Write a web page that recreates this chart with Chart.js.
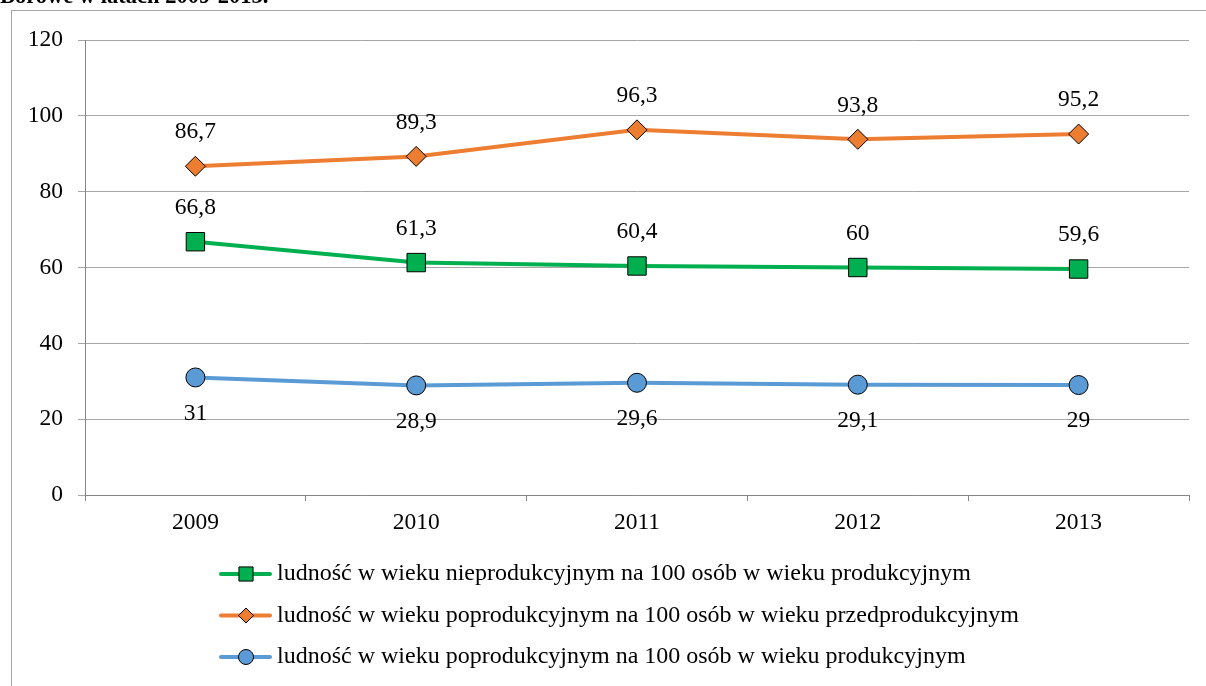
<!DOCTYPE html>
<html>
<head>
<meta charset="utf-8">
<script src="https://cdn.jsdelivr.net/npm/chart.js@4.4.3/dist/chart.umd.min.js"></script>
<style>
  html, body { margin: 0; padding: 0; background: #fff; }
  #wrap { width: 1206px; height: 686px; position: relative; }
</style>
</head>
<body>
<div id="wrap"><canvas id="chart"></canvas></div>
<script>
// data
const years = ['2009', '2010', '2011', '2012', '2013'];
const nieprodukcyjny = [66.8, 61.3, 60.4, 60, 59.6];
const poprodPrzed = [86.7, 89.3, 96.3, 93.8, 95.2];
const poprodProd = [31, 28.9, 29.6, 29.1, 29];
const seriesNames = [
    'ludność w wieku nieprodukcyjnym na 100 osób w wieku produkcyjnym',
    'ludność w wieku poprodukcyjnym na 100 osób w wieku przedprodukcyjnym',
    'ludność w wieku poprodukcyjnym na 100 osób w wieku produkcyjnym',
];
const titleText = 'Borowe w latach 2009-2013.';

const FONT = '"Liberation Serif", "Times New Roman", serif';

const fmt = (v) => String(v).replace('.', ',');

function drawMarker(ctx, ds, x, y, radius) {
    ctx.save();
    ctx.fillStyle = ds.pointBackgroundColor;
    ctx.strokeStyle = '#000';
    ctx.lineWidth = 1;
    Chart.helpers.drawPoint(ctx, {
        pointStyle: ds.pointStyle,
        radius: radius,
        borderWidth: 1,
        rotation: 0
    }, x, y);
    ctx.restore();
}

// value labels, above or below each point
const valueLabels = {
    id: 'valueLabels',
    afterDatasetsDraw(chart) {
        const ctx = chart.ctx;
        ctx.save();
        ctx.font = '23.5px ' + FONT;
        ctx.fillStyle = '#000';
        ctx.textAlign = 'center';
        ctx.textBaseline = 'middle';
        chart.data.datasets.forEach((ds, i) => {
            const meta = chart.getDatasetMeta(i);
            meta.data.forEach((pt, j) => {
                const dy = ds.labelPos === 'below' ? 36 : -34;
                ctx.fillText(fmt(ds.data[j]), pt.x, pt.y + dy);
            });
        });
        ctx.restore();
    }
};

// frame, clipped title and the line+marker legend
const decor = {
    id: 'decor',
    beforeDraw(chart) {
        const ctx = chart.ctx;
        ctx.save();
        ctx.strokeStyle = '#a6a6a6';
        ctx.lineWidth = 1;
        ctx.strokeRect(11.5, 10.5, 1400, 1000);
        ctx.font = 'bold 22.5px ' + FONT;
        ctx.fillStyle = '#000';
        ctx.textBaseline = 'alphabetic';
        ctx.fillText(titleText, 0, 3);
        ctx.restore();
    },
    afterDraw(chart) {
        const ctx = chart.ctx;
        chart.data.datasets.forEach((ds, i) => {
            const y = 574 + i * 41.5;
            ctx.save();
            ctx.strokeStyle = ds.borderColor;
            ctx.lineWidth = 4;
            ctx.lineCap = 'round';
            ctx.beginPath();
            ctx.moveTo(221, y);
            ctx.lineTo(270, y);
            ctx.stroke();
            ctx.restore();
            drawMarker(ctx, ds, 246, y, ds.legendRadius);
            ctx.save();
            ctx.font = '24px ' + FONT;
            ctx.fillStyle = '#000';
            ctx.textBaseline = 'middle';
            ctx.fillText(ds.label, 277, y);
            ctx.restore();
        });
    }
};

const ctx = document.getElementById('chart');
new Chart(ctx, {
    type: 'line',
    data: {
        labels: years,
        datasets: [
            {
                label: seriesNames[0],
                data: nieprodukcyjny,
                borderColor: '#00b050',
                pointBackgroundColor: '#00b050',
                pointStyle: 'rect',
                pointRadius: 13,
                legendRadius: 10,
                labelPos: 'above',
            },
            {
                label: seriesNames[1],
                data: poprodPrzed,
                borderColor: '#ed7d31',
                pointBackgroundColor: '#ed7d31',
                pointStyle: 'rectRot',
                pointRadius: 10,
                legendRadius: 7.5,
                labelPos: 'above',
            },
            {
                label: seriesNames[2],
                data: poprodProd,
                borderColor: '#5b9bd5',
                pointBackgroundColor: '#5b9bd5',
                pointStyle: 'circle',
                pointRadius: 9.5,
                legendRadius: 7.5,
                labelPos: 'below',
            },
        ].map((d) => ({
            ...d,
            borderWidth: 4,
            pointBorderColor: '#000',
            pointBorderWidth: 1,
            pointHoverRadius: d.pointRadius,
            tension: 0,
        })),
    },
    options: {
        responsive: true,
        maintainAspectRatio: false,
        animation: false,
        events: [],
        layout: { padding: { top: 40, right: 17, left: 0, bottom: 0 } },
        plugins: {
            legend: { display: false },
            tooltip: { enabled: false },
        },
        scales: {
            x: {
                offset: true,
                grid: {
                    offset: true,
                    drawOnChartArea: false,
                    drawTicks: true,
                    tickLength: 6,
                    color: '#868686',
                },
                border: { color: '#868686', width: 1 },
                ticks: {
                    color: '#000',
                    font: { family: FONT, size: 23.5 },
                    padding: 8,
                },
                afterFit(scale) { scale.height = 686 - 495; },
            },
            y: {
                min: 0,
                max: 120,
                grid: {
                    color: '#a6a6a6',
                    tickLength: 7,
                    tickColor: '#a6a6a6',
                },
                border: { color: '#868686', width: 1 },
                ticks: {
                    stepSize: 20,
                    color: '#000',
                    font: { family: FONT, size: 23.5 },
                    padding: 15,
                },
                afterFit(scale) { scale.width = 85; },
            },
        },
    },
    plugins: [valueLabels, decor],
});
</script>
</body>
</html>
